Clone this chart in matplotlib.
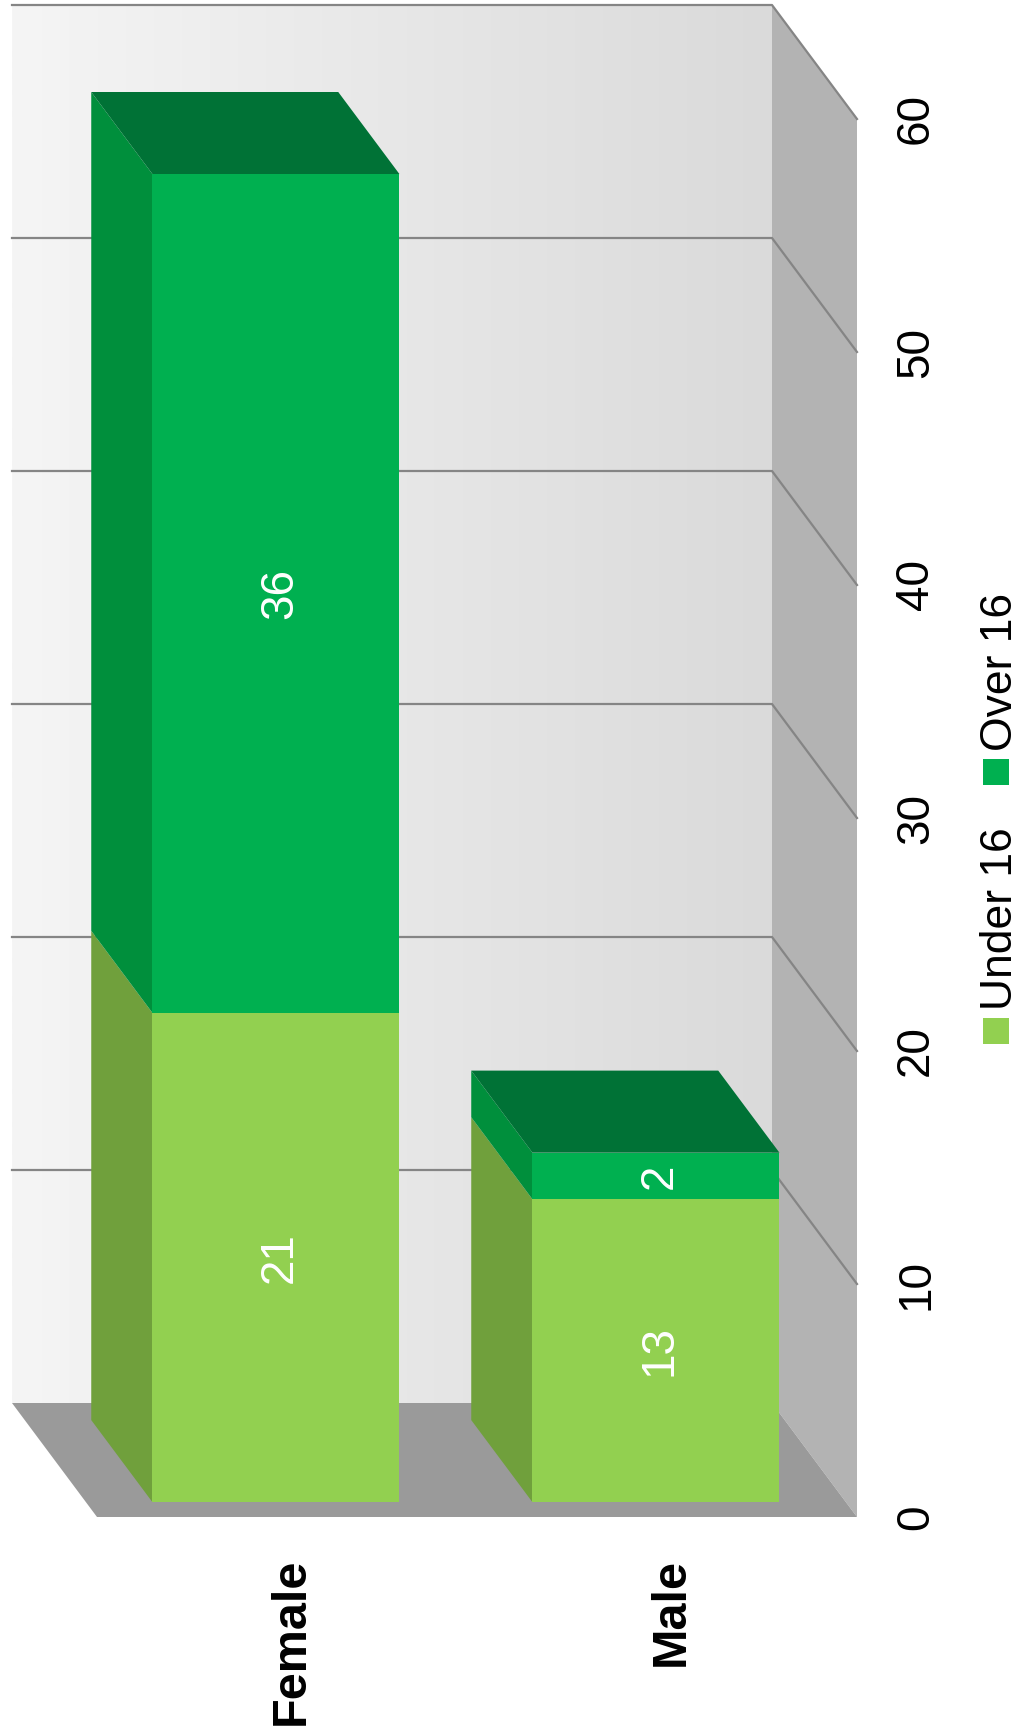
import numpy as np
import matplotlib
matplotlib.use('Agg')
import matplotlib.pyplot as plt
from matplotlib.patches import Polygon, Rectangle
from matplotlib.colors import LinearSegmentedColormap

plt.rcParams['font.family'] = ['Liberation Sans', 'DejaVu Sans']

categories = ['Female', 'Male']
series = ['Under 16', 'Over 16']
under_16 = [21, 13]
over_16 = [36, 2]
value_ticks = [0, 10, 20, 30, 40, 50, 60]

front_colors = ['#92d050', '#00b050']
side_colors = ['#70a03c', '#008f3c']
top_colors = ['#5f8a30', '#007236']

W, H = 1021, 1730
fig = plt.figure(figsize=(W / 100, H / 100), dpi=100)
ax = fig.add_axes([0, 0, 1, 1])
ax.set_axis_off()

# front plane of the box: categories 0..2 across, values 0..60 up (pixel layout)
PX_X0, PX_PER_CAT = 97, 380
PX_Y0, PX_PER_VAL = 1517, 23.3
DX, DY = 85 / PX_PER_CAT, 114 / PX_PER_VAL   # full depth of the box
BAR_W = 0.65
D_FRONT, D_BACK = 0.13, 0.85                  # bar depth inside the box
TXT_DX = 4 / PX_PER_CAT                       # nudge for rotated text centring


def proj(x, v, d):
    # oblique projection: depth moves up and to the left
    return (x - d * DX, v + d * DY)


n = len(categories)
vmax = value_ticks[-1]

# back wall with light gradient
wall_cmap = LinearSegmentedColormap.from_list('wall', ['#f5f5f5', '#dadada'])
grad = np.linspace(0, 1, 256).reshape(1, -1)
bl, br = proj(0, 0, 1), proj(n, vmax, 1)
ax.imshow(grad, cmap=wall_cmap, extent=[bl[0], br[0], bl[1], br[1]],
          aspect='auto', zorder=0)

# right side wall and floor
side = [proj(n, 0, 0), proj(n, vmax, 0), proj(n, vmax, 1), proj(n, 0, 1)]
ax.add_patch(Polygon(side, closed=True, facecolor='#b3b3b3', edgecolor='none', zorder=1))
floor = [proj(0, 0, 0), proj(n, 0, 0), proj(n, 0, 1), proj(0, 0, 1)]
ax.add_patch(Polygon(floor, closed=True, facecolor='#9a9a9a', edgecolor='none', zorder=1))

# gridlines along back wall and side wall
for t in value_ticks[1:]:
    pts = [proj(0, t, 1), proj(n, t, 1), proj(n, t, 0)]
    ax.plot([p[0] for p in pts], [p[1] for p in pts], color='#858585', lw=1.6, zorder=2)

# stacked 3D bars
stacks = [under_16, over_16]
for i in range(n):
    x0, x1 = i + 0.5 - BAR_W / 2, i + 0.5 + BAR_W / 2
    bottom = 0
    for s, vals in enumerate(stacks):
        v = vals[i]
        top = bottom + v
        front = [proj(x0, bottom, D_FRONT), proj(x1, bottom, D_FRONT),
                 proj(x1, top, D_FRONT), proj(x0, top, D_FRONT)]
        left = [proj(x0, bottom, D_FRONT), proj(x0, top, D_FRONT),
                proj(x0, top, D_BACK), proj(x0, bottom, D_BACK)]
        ax.add_patch(Polygon(left, closed=True, facecolor=side_colors[s], edgecolor='none', zorder=3))
        ax.add_patch(Polygon(front, closed=True, facecolor=front_colors[s], edgecolor='none', zorder=4))
        if s == len(stacks) - 1:
            lid = [proj(x0, top, D_FRONT), proj(x1, top, D_FRONT),
                   proj(x1, top, D_BACK), proj(x0, top, D_BACK)]
            ax.add_patch(Polygon(lid, closed=True, facecolor=top_colors[s], edgecolor='none', zorder=3))
        lx, ly = proj(i + 0.5, bottom + v / 2, D_FRONT)
        ax.text(lx + TXT_DX, ly, str(v), rotation=90, ha='center', va='center',
                color='white', fontsize=33, zorder=5)
        bottom = top

# value axis labels
for t in value_ticks:
    ax.text(2.145 + TXT_DX, t, str(t), rotation=90, ha='center', va='center', fontsize=33)

# category labels
for i, cat in enumerate(categories):
    ax.text(i + 0.5 + TXT_DX, -1.76, cat, rotation=90, ha='center', va='top',
            fontsize=35, fontweight='bold')

# legend, reading bottom to top
leg_x = 2.366
mk_w, mk_h = 26 / PX_PER_CAT, 26 / PX_PER_VAL
leg_marker_y = [20.86, 31.97]
for s, name in enumerate(series):
    my = leg_marker_y[s]
    ax.add_patch(Rectangle((leg_x - mk_w / 2, my - mk_h / 2), mk_w, mk_h,
                           facecolor=front_colors[s], edgecolor='none'))
    ax.text(leg_x + TXT_DX, my + mk_h / 2 + 0.35, name, rotation=90,
            ha='center', va='bottom', fontsize=32)

ax.set_xlim(-PX_X0 / PX_PER_CAT, (W - PX_X0) / PX_PER_CAT)
ax.set_ylim(-(H - PX_Y0) / PX_PER_VAL, PX_Y0 / PX_PER_VAL)

fig.savefig('out.png', dpi=100, facecolor='white')
